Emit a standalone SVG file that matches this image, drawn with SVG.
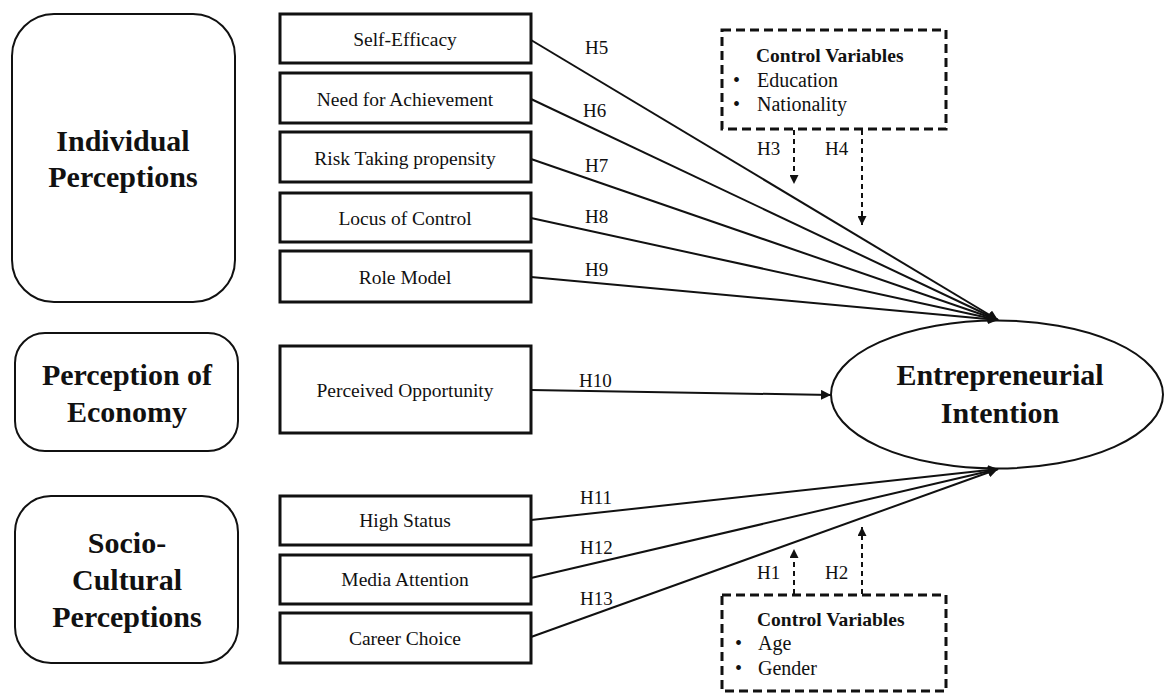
<svg xmlns="http://www.w3.org/2000/svg" width="1164" height="693" viewBox="0 0 1164 693">
  <style>
    .bg { fill: #ffffff; }
    .group { fill: #ffffff; stroke: #111; stroke-width: 2; }
    .box { fill: #ffffff; stroke: #111; stroke-width: 3; }
    .ctrl { fill: #ffffff; stroke: #111; stroke-width: 3; stroke-dasharray: 9 5; }
    .oval { fill: #ffffff; stroke: #111; stroke-width: 2; }
    .link { fill: none; stroke: #111; stroke-width: 2; }
    .dlink { fill: none; stroke: #111; stroke-width: 2; stroke-dasharray: 5 4; }
    text { font-family: "Liberation Serif", "Times New Roman", serif; fill: #111; }
    .big { font-size: 30px; font-weight: bold; text-anchor: middle; }
    .lbl { font-size: 19.5px; text-anchor: middle; }
    .h { font-size: 19px; }
    .ctitle { font-size: 19.5px; font-weight: bold; }
    .item { font-size: 20px; }
  </style>
  <defs>
    <marker id="arrow" viewBox="0 0 10 10" refX="10" refY="5" markerWidth="10" markerHeight="10" markerUnits="userSpaceOnUse" orient="auto">
      <path d="M0,0 L10,5 L0,10 Z" fill="#111"/>
    </marker>
    <marker id="arrowSmall" viewBox="0 0 10 10" refX="10" refY="5" markerWidth="9" markerHeight="9" markerUnits="userSpaceOnUse" orient="auto">
      <path d="M0,0 L10,5 L0,10 Z" fill="#111"/>
    </marker>
  </defs>
  <rect class="bg" x="0" y="0" width="1164" height="693"/>

  <!-- construct groups -->
  <g id="individual-perceptions">
    <rect class="group" x="12" y="14" width="223" height="288" rx="42"/>
    <text class="big" x="123" y="151">Individual</text>
    <text class="big" x="123" y="187">Perceptions</text>
  </g>
  <g id="perception-of-economy">
    <rect class="group" x="15" y="333" width="223" height="118" rx="30"/>
    <text class="big" x="127" y="385">Perception of</text>
    <text class="big" x="127" y="422">Economy</text>
  </g>
  <g id="socio-cultural-perceptions">
    <rect class="group" x="15" y="496" width="223" height="167" rx="36"/>
    <text class="big" x="127" y="553">Socio-</text>
    <text class="big" x="127" y="590">Cultural</text>
    <text class="big" x="127" y="627">Perceptions</text>
  </g>

  <!-- antecedent variables -->
  <g id="self-efficacy">
    <rect class="box" x="280" y="14" width="251" height="49"/>
    <text class="lbl" x="405" y="46">Self-Efficacy</text>
  </g>
  <g id="need-for-achievement">
    <rect class="box" x="280" y="73" width="251" height="50"/>
    <text class="lbl" x="405" y="106">Need for Achievement</text>
  </g>
  <g id="risk-taking-propensity">
    <rect class="box" x="280" y="132" width="251" height="50"/>
    <text class="lbl" x="405" y="165">Risk Taking  propensity</text>
  </g>
  <g id="locus-of-control">
    <rect class="box" x="280" y="193" width="251" height="49"/>
    <text class="lbl" x="405" y="225">Locus  of Control</text>
  </g>
  <g id="role-model">
    <rect class="box" x="280" y="251" width="251" height="51"/>
    <text class="lbl" x="405" y="284">Role Model</text>
  </g>
  <g id="perceived-opportunity">
    <rect class="box" x="280" y="346" width="251" height="87"/>
    <text class="lbl" x="405" y="397">Perceived Opportunity</text>
  </g>
  <g id="high-status">
    <rect class="box" x="280" y="496" width="251" height="49"/>
    <text class="lbl" x="405" y="527">High  Status</text>
  </g>
  <g id="media-attention">
    <rect class="box" x="280" y="555" width="251" height="49"/>
    <text class="lbl" x="405" y="586">Media Attention</text>
  </g>
  <g id="career-choice">
    <rect class="box" x="280" y="613" width="251" height="50"/>
    <text class="lbl" x="405" y="645">Career  Choice</text>
  </g>

  <!-- outcome -->
  <g id="entrepreneurial-intention">
    <ellipse class="oval" cx="997" cy="394.5" rx="166" ry="74"/>
    <text class="big" x="1000" y="385">Entrepreneurial</text>
    <text class="big" x="1000" y="423">Intention</text>
  </g>

  <!-- control variables -->
  <g id="controls-top">
    <rect class="ctrl" x="722" y="30" width="224" height="99"/>
    <text class="ctitle" x="756" y="62">Control Variables</text>
    <text class="item" x="733" y="87">•</text>
    <text class="item" x="757" y="87">Education</text>
    <text class="item" x="733" y="111">•</text>
    <text class="item" x="757" y="111">Nationality</text>
  </g>
  <g id="controls-bottom">
    <rect class="ctrl" x="722" y="595" width="224" height="96"/>
    <text class="ctitle" x="757" y="626">Control Variables</text>
    <text class="item" x="735" y="650">•</text>
    <text class="item" x="758" y="650">Age</text>
    <text class="item" x="735" y="675">•</text>
    <text class="item" x="758" y="675">Gender</text>
  </g>

  <!-- hypothesised paths -->
  <g id="connectors">
    <line class="link" x1="531" y1="40" x2="998" y2="320" marker-end="url(#arrow)"/>
    <line class="link" x1="531" y1="99" x2="998" y2="320" marker-end="url(#arrow)"/>
    <line class="link" x1="531" y1="159" x2="998" y2="320" marker-end="url(#arrow)"/>
    <line class="link" x1="531" y1="218" x2="998" y2="320" marker-end="url(#arrow)"/>
    <line class="link" x1="531" y1="277" x2="998" y2="320" marker-end="url(#arrow)"/>
    <line class="link" x1="531" y1="390" x2="831" y2="395" marker-end="url(#arrow)"/>
    <line class="link" x1="531" y1="520" x2="998" y2="469" marker-end="url(#arrow)"/>
    <line class="link" x1="531" y1="578" x2="998" y2="469" marker-end="url(#arrow)"/>
    <line class="link" x1="531" y1="637" x2="998" y2="469" marker-end="url(#arrow)"/>
    <line class="dlink" x1="794" y1="130" x2="794" y2="184" marker-end="url(#arrowSmall)"/>
    <line class="dlink" x1="862" y1="130" x2="862" y2="225" marker-end="url(#arrowSmall)"/>
    <line class="dlink" x1="794" y1="594" x2="794" y2="549" marker-end="url(#arrowSmall)"/>
    <line class="dlink" x1="862" y1="594" x2="862" y2="527" marker-end="url(#arrowSmall)"/>
    <text class="h" x="585" y="54">H5</text>
    <text class="h" x="583" y="117">H6</text>
    <text class="h" x="585" y="172">H7</text>
    <text class="h" x="585" y="223">H8</text>
    <text class="h" x="585" y="276">H9</text>
    <text class="h" x="579" y="387">H10</text>
    <text class="h" x="580" y="504">H11</text>
    <text class="h" x="580" y="554">H12</text>
    <text class="h" x="580" y="605">H13</text>
    <text class="h" x="757" y="155">H3</text>
    <text class="h" x="825" y="155">H4</text>
    <text class="h" x="757" y="579">H1</text>
    <text class="h" x="825" y="579">H2</text>
  </g>
</svg>
